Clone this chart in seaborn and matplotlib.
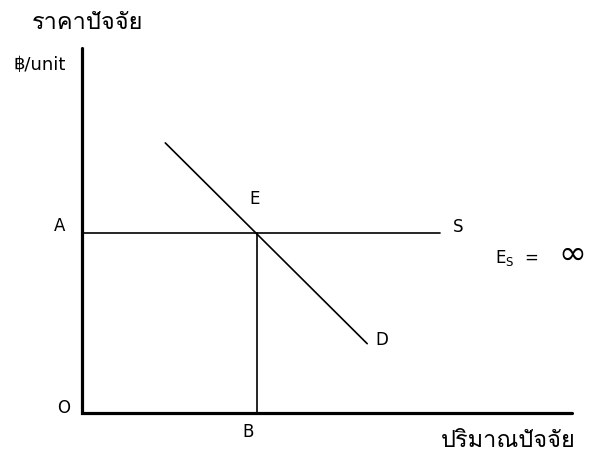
import pandas as pd
import seaborn as sns
import matplotlib.pyplot as plt
from matplotlib import font_manager
from matplotlib.ft2font import FT2Font

# Values (quantity on x, price on y)
axis_x = [0, 0, 100]
axis_y = [100, 0, 0]
supply_q = [0, 73]
supply_p = [49.3, 49.3]
demand_q = [17, 58.2]
demand_p = [74, 19]
eq_q = [35.7, 35.7]
eq_p = [0, 49.3]

sns.set_style('white')

# find a font that can draw Thai text
thai_fam = None
for f in font_manager.fontManager.ttflist:
    try:
        if ord('ร') in FT2Font(f.fname).get_charmap():
            thai_fam = f.name
            break
    except Exception:
        pass
fams = [thai_fam, 'DejaVu Sans'] if thai_fam else ['DejaVu Sans']
plt.rcParams['font.family'] = ['DejaVu Sans']
plt.rcParams['mathtext.fontset'] = 'dejavusans'
plt.rcParams['text.color'] = 'black'

fig = plt.figure(figsize=(5.9, 4.57), dpi=100)
ax = fig.add_axes([0, 0, 1, 1])

axes_df = pd.DataFrame({'q': axis_x, 'p': axis_y})
ax.plot(axes_df['q'], axes_df['p'], color='black', lw=2.3, solid_joinstyle='miter')
sns.lineplot(x=supply_q, y=supply_p, color='black', lw=1.2, ax=ax, estimator=None)
sns.lineplot(x=eq_q, y=eq_p, color='black', lw=1.2, ax=ax, estimator=None, sort=False)
sns.lineplot(x=demand_q, y=demand_p, color='black', lw=1.2, ax=ax, estimator=None, sort=False)

ax.set_xlim(-16.73, 103.67)
ax.set_ylim(-12.05, 113.15)
ax.axis('off')

fs = 12
ax.text(1.2, 107, 'ราคาปัจจัย', ha='center', va='center', fontsize=17, family=fams)
ax.text(-8.6, 95.3, '฿/unit', ha='center', va='center', fontsize=13,
        family=['DejaVu Sans'] + fams)
ax.text(87, -7.4, 'ปริมาณปัจจัย', ha='center', va='center', fontsize=17, family=fams)
ax.text(-4.5, 51.2, 'A', ha='center', va='center', fontsize=fs)
ax.text(35.3, 58.6, 'E', ha='center', va='center', fontsize=fs)
ax.text(76.7, 51, 'S', ha='center', va='center', fontsize=fs)
ax.text(61.2, 20, 'D', ha='center', va='center', fontsize=fs)
ax.text(-3.7, 1.4, 'O', ha='center', va='center', fontsize=fs)
ax.text(33.9, -5.2, 'B', ha='center', va='center', fontsize=fs)
ax.text(84.3, 42.5, r'E$_{\mathsf{S}}$  =', ha='left', va='center', fontsize=fs,
        family='DejaVu Sans')
ax.text(100, 43.5, '∞', ha='center', va='center', fontsize=24, family='DejaVu Sans')

fig.savefig('out.png', dpi=100)
